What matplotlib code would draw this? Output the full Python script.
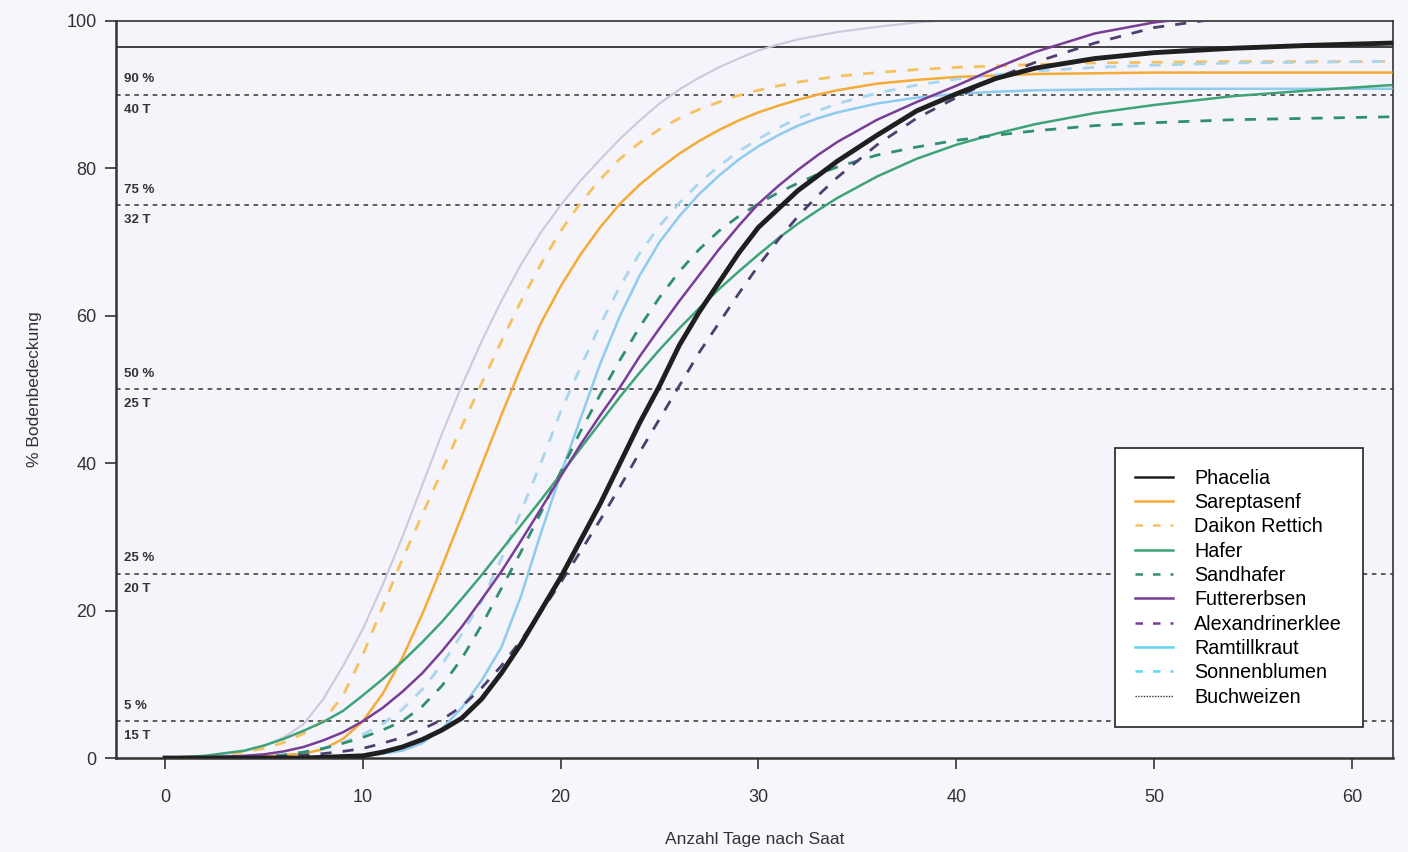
import numpy as np
import matplotlib.pyplot as plt
from matplotlib.lines import Line2D

plt.rcParams['font.family'] = ['Liberation Sans', 'DejaVu Sans']

# Tage nach Saat
tage = [0, 2, 4, 5, 6, 7, 8, 9, 10, 11, 12, 13, 14, 15, 16, 17, 18, 19, 20,
        21, 22, 23, 24, 25, 26, 27, 28, 29, 30, 31, 32, 33, 34, 36, 38, 40,
        42, 44, 47, 50, 54, 58, 62]

# % Bodenbedeckung
phacelia = [0, 0, 0, 0, 0, 0, 0.1, 0.2, 0.3, 0.8, 1.5, 2.5, 3.8, 5.4, 8, 11.5,
            15.5, 20, 24.5, 29.5, 34.5, 40, 45.5, 50.5, 56, 60.5, 64.5, 68.5,
            72, 74.5, 77, 79, 81, 84.5, 87.8, 90.1, 92.2, 93.6, 94.9, 95.7,
            96.3, 96.7, 97]
sareptasenf = [0, 0, 0.1, 0.2, 0.4, 0.6, 1.2, 2.6, 5, 8.7, 13.6, 19.5, 26, 32.8,
               39.7, 46.5, 53, 59, 64, 68.3, 72, 75.2, 77.8, 80, 82, 83.7, 85.2,
               86.5, 87.6, 88.5, 89.3, 90, 90.6, 91.5, 92, 92.4, 92.6, 92.8,
               92.9, 93, 93, 93, 93]
daikon = [0, 0.2, 0.8, 1.3, 2.1, 3.3, 5, 8.5, 14, 20.5, 27, 33, 39, 45, 50.8,
          56.5, 62, 67, 71.5, 75.3, 78.5, 81.3, 83.5, 85.3, 86.8, 88, 89, 89.9,
          90.6, 91.2, 91.7, 92.1, 92.5, 93, 93.4, 93.7, 93.9, 94.1, 94.3,
          94.4, 94.5, 94.5, 94.5]
hafer = [0, 0.3, 1, 1.7, 2.6, 3.7, 4.9, 6.4, 8.5, 10.7, 13.1, 15.7, 18.5, 21.6,
         24.8, 28.2, 31.6, 35, 38.5, 42, 45.5, 49, 52.3, 55.4, 58.3, 61, 63.6,
         66, 68.3, 70.5, 72.5, 74.3, 76, 78.9, 81.3, 83.2, 84.7, 86, 87.5,
         88.6, 89.8, 90.6, 91.3]
sandhafer = [0, 0, 0.1, 0.2, 0.4, 0.8, 1.3, 2, 2.8, 3.8, 5, 7, 9.8, 13.5, 18,
             23, 28, 33.3, 38.8, 44.3, 49.3, 54, 58.5, 62.5, 66, 69, 71.5, 73.5,
             75.2, 76.7, 78, 79.2, 80.2, 81.8, 82.9, 83.8, 84.5, 85.1, 85.8,
             86.2, 86.6, 86.8, 87]
futtererbsen = [0, 0.1, 0.3, 0.5, 0.9, 1.5, 2.4, 3.5, 5, 6.8, 9, 11.5, 14.5,
                17.8, 21.5, 25.3, 29.5, 33.8, 38.2, 42.5, 46.5, 50.3, 54.5,
                58.3, 62, 65.5, 69, 72.2, 75.2, 77.6, 79.8, 81.8, 83.6, 86.6,
                89, 91.2, 93.6, 95.8, 98.3, 99.8, 101, 101.8, 102.3]
alexandrinerklee = [0, 0, 0, 0.1, 0.2, 0.4, 0.6, 0.9, 1.3, 2, 2.8, 3.9, 5.2, 7,
                    9.5, 12.5, 16, 19.8, 23.8, 28, 32.3, 36.8, 41.5, 46, 50.5,
                    55, 59, 63, 66.8, 70.3, 73.5, 76.3, 78.8, 83.2, 86.8, 89.6,
                    92.2, 94.4, 97, 99.1, 100.6, 101.5, 102]
ramtillkraut = [0, 0, 0, 0, 0, 0, 0.1, 0.2, 0.3, 0.6, 1, 2, 4, 6.8, 10.5, 15,
                22, 30.5, 38.5, 46, 53.5, 60, 65.5, 70, 73.5, 76.5, 79, 81.2,
                83, 84.5, 85.8, 86.8, 87.6, 88.8, 89.6, 90.1, 90.4, 90.6, 90.7,
                90.8, 90.8, 90.8, 90.8]
sonnenblumen = [0, 0, 0.1, 0.2, 0.4, 0.8, 1.3, 2.1, 3.2, 4.6, 6.6, 9.3, 12.7,
                16.8, 21.3, 27, 33.5, 40, 47, 53, 58.8, 64, 68.5, 72.2, 75.3,
                78, 80.3, 82.3, 84, 85.5, 86.8, 87.8, 88.8, 90.2, 91.3, 92.1,
                92.7, 93.2, 93.7, 94, 94.3, 94.4, 94.5]
buchweizen = [0, 0.2, 0.9, 1.6, 2.8, 4.6, 8, 12.5, 17.5, 23.5, 30, 37, 44, 50.5,
              56.5, 62, 67, 71.3, 75, 78.3, 81.2, 84, 86.5, 88.8, 90.7, 92.3,
              93.7, 94.9, 96, 96.8, 97.5, 98, 98.5, 99.2, 99.8, 100.2, 100.5,
              100.7, 101, 101, 101, 101, 101]

# Schwellen (% Bodenbedeckung, Tage)
schwellen = [90, 75, 50, 25, 5]
schwellen_tage = [40, 32, 25, 20, 15]

fig = plt.figure(figsize=(14.08, 8.52), dpi=100, facecolor='#f6f7fb')
ax = fig.add_axes([0.0824, 0.1103, 0.9069, 0.8651])
ax.set_facecolor('#f4f4fa')

# Schwellenlinien
for s, t in zip(schwellen, schwellen_tage):
    ax.axhline(s, color='#333333', lw=1.1, ls=(0, (3, 3)), zorder=1)
    ax.text(-2.1, s + 1.3, f'{s} %', fontsize=9.5, fontweight='bold',
            color='#333333', va='bottom', ha='left')
    ax.text(-2.1, s - 1.2, f'{t} T', fontsize=9.5, fontweight='bold',
            color='#333333', va='top', ha='left')
ax.axhline(96.5, color='#333333', lw=1.3, zorder=1)

ax.plot(tage, buchweizen, color='#cdc8de', lw=1.5, zorder=2)
ax.plot(tage, daikon, color='#f8c160', lw=2, ls=(0, (4, 4)), zorder=3)
ax.plot(tage, sareptasenf, color='#f5ab35', lw=1.8, zorder=3)
ax.plot(tage, sonnenblumen, color='#a9d6ee', lw=2, ls=(0, (4, 4)), zorder=3)
ax.plot(tage, ramtillkraut, color='#8ecbec', lw=1.8, zorder=3)
ax.plot(tage, hafer, color='#3fa378', lw=1.8, zorder=3)
ax.plot(tage, sandhafer, color='#2f8f70', lw=2, ls=(0, (4, 4)), zorder=3)
ax.plot(tage, futtererbsen, color='#7a3d96', lw=1.8, zorder=4)
ax.plot(tage, alexandrinerklee, color='#4f3d6e', lw=2, ls=(0, (4, 4)), zorder=4)
ax.plot(tage, phacelia, color='#1f1f1f', lw=3.5, zorder=5)

handles = [
    Line2D([], [], color='#1f1f1f', lw=1.8),
    Line2D([], [], color='#f5ab35', lw=1.8),
    Line2D([], [], color='#f8c160', lw=1.8, ls=(0, (3, 4))),
    Line2D([], [], color='#3fa378', lw=1.8),
    Line2D([], [], color='#2f8f70', lw=1.8, ls=(0, (3, 4))),
    Line2D([], [], color='#7a3d96', lw=1.8),
    Line2D([], [], color='#7a3d96', lw=1.8, ls=(0, (3, 4))),
    Line2D([], [], color='#5fd8ee', lw=1.8),
    Line2D([], [], color='#5fd8ee', lw=1.8, ls=(0, (3, 4))),
    Line2D([], [], color='#333333', lw=1, ls=(0, (1, 1))),
]
labels = ['Phacelia', 'Sareptasenf', 'Daikon Rettich', 'Hafer', 'Sandhafer',
          'Futtererbsen', 'Alexandrinerklee', 'Ramtillkraut', 'Sonnenblumen',
          'Buchweizen']
leg = ax.legend(handles, labels, loc='upper left', bbox_to_anchor=(0.782, 0.4206),
                borderaxespad=0, fontsize=14.2, frameon=True, fancybox=False,
                edgecolor='#222222', facecolor='#ffffff', framealpha=1,
                handlelength=1.9, handletextpad=1.1, labelspacing=0.27,
                borderpad=1.05)
leg.get_frame().set_linewidth(1.2)
leg.set_zorder(10)

ax.set_xlim(-2.48, 62.08)
ax.set_ylim(0, 100)
ax.set_xticks([0, 10, 20, 30, 40, 50, 60])
ax.set_yticks([0, 20, 40, 60, 80, 100])
ax.tick_params(axis='both', direction='out', length=8, width=1.2,
               labelsize=13, colors='#333333', pad=6)
ax.tick_params(axis='x', pad=14)
for side in ['left', 'bottom']:
    ax.spines[side].set_linewidth(1.8)
    ax.spines[side].set_color('#333333')
for side in ['top', 'right']:
    ax.spines[side].set_linewidth(1.2)
    ax.spines[side].set_color('#333333')

ax.set_xlabel('Anzahl Tage nach Saat', fontsize=12.5, color='#333333')
ax.set_ylabel('% Bodenbedeckung', fontsize=12.5, color='#333333')
ax.xaxis.set_label_coords(0.5, -0.111)
ax.yaxis.set_label_coords(-0.064, 0.5)
ax.xaxis.label.set_va('center')
ax.yaxis.label.set_va('center')

fig.savefig('out.png', dpi=100, facecolor=fig.get_facecolor())
